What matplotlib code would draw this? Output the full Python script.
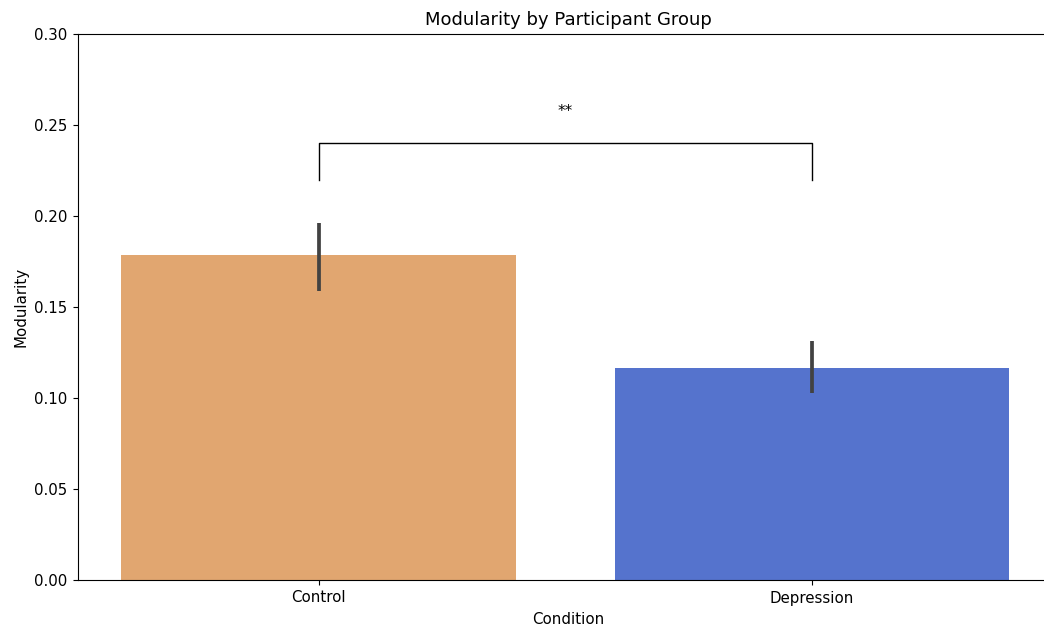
import numpy as np
import matplotlib
matplotlib.use("Agg")
import matplotlib.pyplot as plt

# values
conditions = ["Control", "Depression"]
means = [0.1786, 0.1165]
ci_low = [0.159, 0.1027]
ci_high = [0.196, 0.1313]
bar_colors = ["#E1A670", "#5573CD"]

# significance bracket
bracket_y = 0.24
bracket_leg = 0.22
sig_label = "**"

# reference looks rendered a touch larger than default
s = 1.08
plt.rcParams.update({
    "font.size": 10 * s,
    "xtick.major.size": 3.5 * s,
    "ytick.major.size": 3.5 * s,
    "xtick.major.pad": 3.5 * s,
    "ytick.major.pad": 3.5 * s,
    "axes.labelpad": 4 * s,
    "axes.titlepad": 6 * s,
})

fig = plt.figure(figsize=(10.44, 6.27), dpi=100)
# axes extends a bit past the right edge, like the cropped reference
ax = fig.add_axes([78 / 1044, 47 / 627, (1058.75 - 78) / 1044, 546 / 627])

x = np.arange(len(conditions))
ax.bar(x, means, width=0.8, color=bar_colors)
ax.vlines(x, ci_low, ci_high, color="#424242", linewidth=2.7)

# bracket between the two groups
ax.plot([x[0], x[0], x[1], x[1]],
        [bracket_leg, bracket_y, bracket_y, bracket_leg],
        color="black", linewidth=1.0)
ax.text((x[0] + x[1]) / 2, 0.2575, sig_label, ha="center", va="center", fontsize=10 * s)

ax.spines["right"].set_visible(False)
ax.set_xlim(-0.488, 1.5)
ax.set_ylim(0, 0.30)
ax.set_yticks([0.0, 0.05, 0.10, 0.15, 0.20, 0.25, 0.30])
ax.set_xticks(x)
ax.set_xticklabels(conditions)

ax.set_title("Modularity by Participant Group", fontsize=12 * s)
ax.set_xlabel("Condition")
ax.set_ylabel("Modularity")

fig.savefig("out.png", dpi=100)
